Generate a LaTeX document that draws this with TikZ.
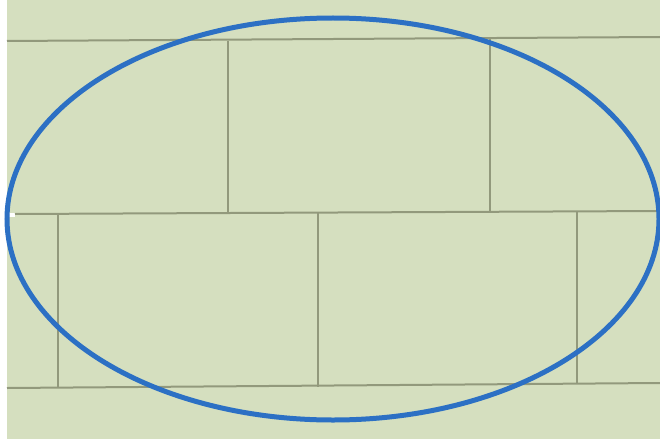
\documentclass[tikz,border=0pt]{standalone}
\usepackage{tikz}
\definecolor{wallbg}{RGB}{213,223,191}
\definecolor{joint}{RGB}{146,153,124}
\definecolor{ringblue}{RGB}{44,112,196}

\begin{document}
\begin{tikzpicture}[x=1pt, y=-1pt, mortar/.style={draw=joint, line width=2pt}]
        \useasboundingbox (0,0) rectangle (660,441);
        \fill[white] (0,0) rectangle (660,441);
        \fill[wallbg] (7,0) rectangle (660,439);
        \fill[white] (0,213) rectangle (15,217);
        % bed joints
        \draw[mortar] (7,41) -- (660,37);
        \draw[mortar] (15,214) -- (660,211);
        \draw[mortar] (7,388) -- (660,383);
        % head joints
        \draw[mortar] (228,41) -- (228,213);
        \draw[mortar] (490,39) -- (490,212);
        \draw[mortar] (58,214) -- (58,388);
        \draw[mortar] (318,213) -- (318,387);
        \draw[mortar] (577,212) -- (577,384);
        \draw[ringblue, line width=5pt] (333,219) ellipse [x radius=326, y radius=201];
    \end{tikzpicture}
\end{document}
